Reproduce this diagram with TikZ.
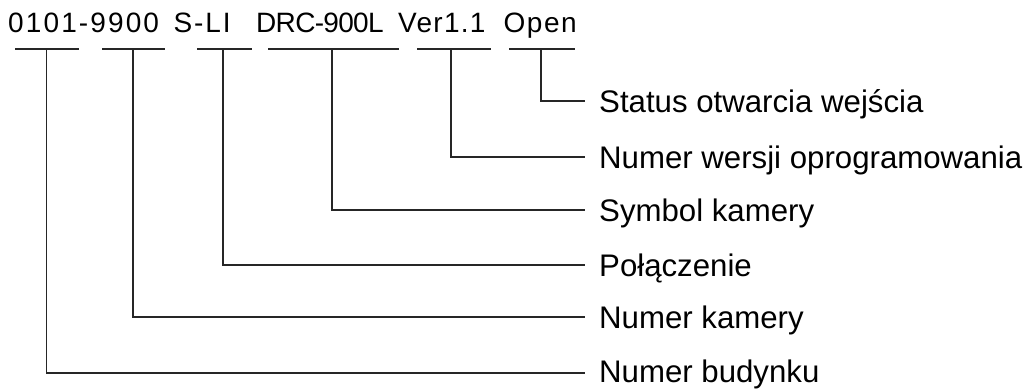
\documentclass[tikz,border=0pt]{standalone}
\usepackage{fontspec}
\setmainfont{Liberation Sans}
\begin{document}
\begin{tikzpicture}[x=1pt,y=-1pt,
  conn/.style={draw=black!85, line width=1.8pt},
  barline/.style={draw=black!85, line width=2pt},
  lab/.style={anchor=base west, inner sep=0pt, font=\fontsize{31.2}{36}\selectfont},
  code/.style={anchor=base west, inner sep=0pt, font=\fontsize{28}{34}\selectfont}]
\useasboundingbox (0,0) rectangle (1035,389);

% code text
\node[code] (c1) at (8,32)     {\addfontfeature{LetterSpace=7.6}0101-9900};
\node[code] (c2) at (173.5,32) {\addfontfeature{LetterSpace=6.7}S-LI};
\node[code] (c3) at (256,32)   {\addfontfeature{LetterSpace=-2.5}DRC-900L};
\node[code] (c4) at (398,32)   {\addfontfeature{LetterSpace=4.6}Ver1.1};
\node[code] (c5) at (503.5,32) {\addfontfeature{LetterSpace=5.4}Open};

% bars
\draw[barline] (15,49) -- (79,49);
\draw[barline] (102,49) -- (165,49);
\draw[barline] (197,49) -- (252,49);
\draw[barline] (268,49) -- (399,49);
\draw[barline] (417,49) -- (491,49);
\draw[barline] (509,49) -- (575,49);

% bar taps
\coordinate (b1) at (46.5,49);
\coordinate (b2) at (133,49);
\coordinate (b3) at (223,49);
\coordinate (b4) at (332,49);
\coordinate (b5) at (451,49);
\coordinate (b6) at (541,49);

% connector ends
\coordinate (e1) at (585,373);
\coordinate (e2) at (585,317);
\coordinate (e3) at (585,265);
\coordinate (e4) at (585,210);
\coordinate (e5) at (585,157);
\coordinate (e6) at (585,101);

% labels
\node[lab] (l1) at (599,382) {Numer budynku};
\node[lab] (l2) at (599,328) {Numer kamery};
\node[lab] (l3) at (599,276) {Połączenie};
\node[lab] (l4) at (599,221.5) {Symbol kamery};
\node[lab] (l5) at (599,168) {Numer wersji oprogramowania};
\node[lab] (l6) at (599,112) {Status otwarcia wejścia};

% connectors
\draw[conn] (b1) |- (e1);
\draw[conn] (b2) |- (e2);
\draw[conn] (b3) |- (e3);
\draw[conn] (b4) |- (e4);
\draw[conn] (b5) |- (e5);
\draw[conn] (b6) |- (e6);
\end{tikzpicture}
\end{document}
